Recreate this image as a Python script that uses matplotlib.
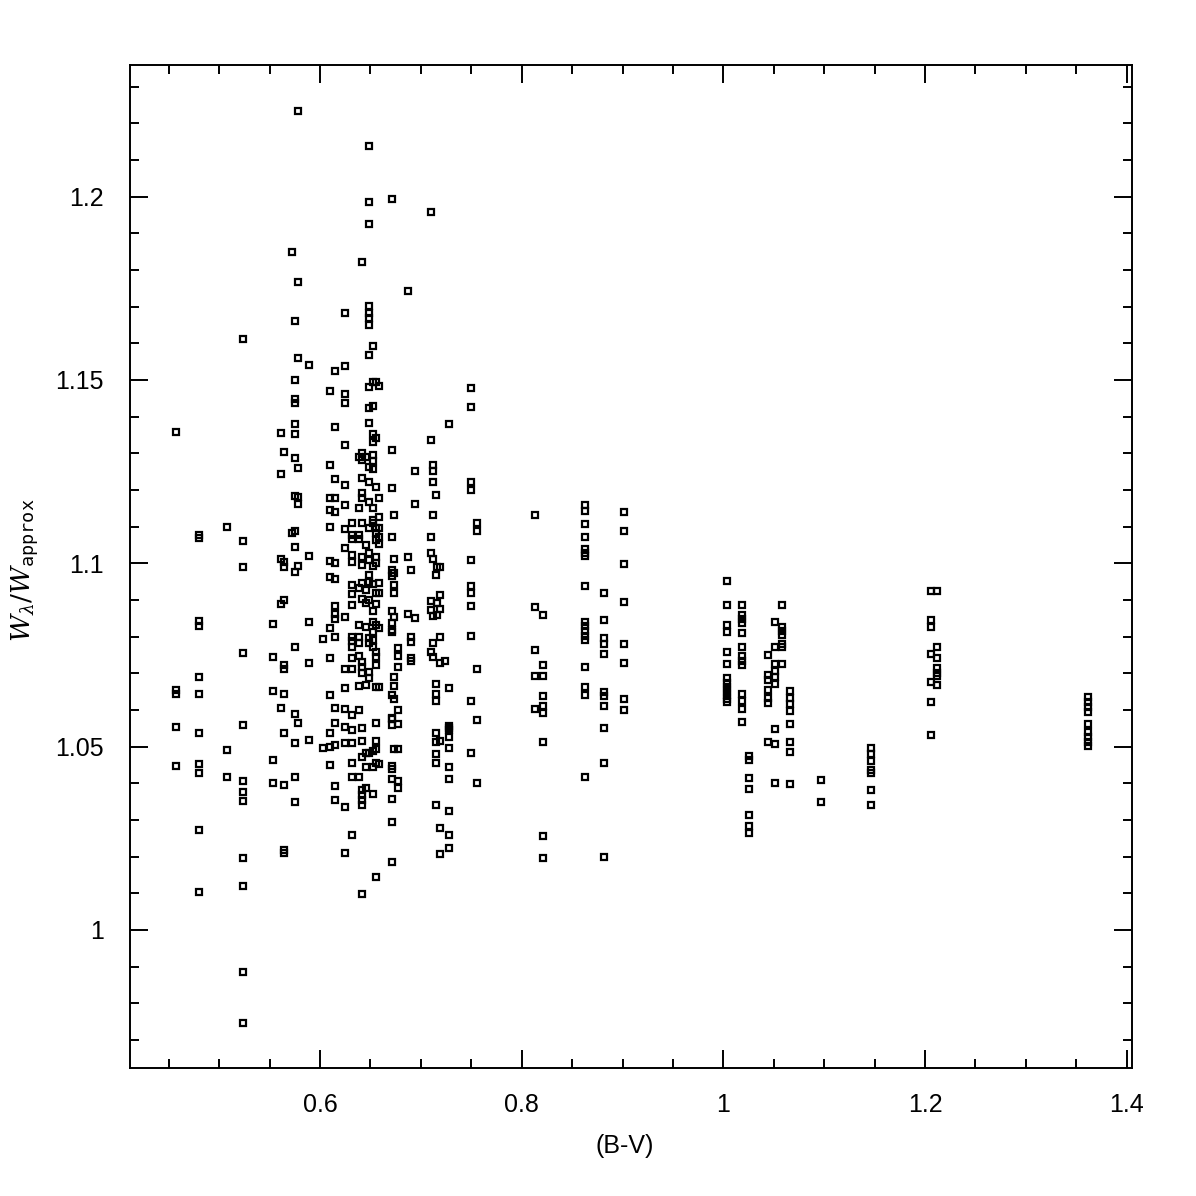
import numpy as np
import matplotlib
matplotlib.use("Agg")
import matplotlib.pyplot as plt
from matplotlib.ticker import MultipleLocator, FuncFormatter

col_bv = [0.457, 0.4804, 0.5074, 0.524, 0.553, 0.5613, 0.564, 0.5719,
          0.5752, 0.5779, 0.589, 0.6027, 0.6104, 0.6145, 0.6246, 0.632,
          0.6385, 0.6419, 0.6452, 0.6487, 0.6528, 0.6556, 0.6589, 0.6712,
          0.6735, 0.6772, 0.6871, 0.6904, 0.6943, 0.7099, 0.7122, 0.7146,
          0.7152, 0.7158, 0.7188, 0.7241, 0.7275, 0.7496, 0.7556, 0.8128,
          0.8211, 0.8632, 0.8817, 0.9012, 1.0039, 1.0188, 1.0257, 1.0444,
          1.0509, 1.0578, 1.0657, 1.0965, 1.1462, 1.2054, 1.2122, 1.3613]

col_ratio = [
    [1.1357, 1.0654, 1.0644, 1.0554, 1.0448],
    [1.1077, 1.1068, 1.0843, 1.0829, 1.0691, 1.0644, 1.0538, 1.0453, 1.0429, 1.0273, 1.0104],
    [1.1099, 1.0491, 1.0418],
    [1.1613, 1.1062, 1.0989, 1.0755, 1.056, 1.0407, 1.0376, 1.0352, 1.0195, 1.0121, 0.9885, 0.9747],
    [1.0834, 1.0745, 1.0652, 1.0464, 1.0402],
    [1.1356, 1.1244, 1.1012, 1.0889, 1.0606],
    [1.1304, 1.1004, 1.0991, 1.09, 1.0723, 1.0711, 1.0643, 1.0538, 1.0395, 1.0218, 1.0209],
    [1.185, 1.1083],
    [1.1661, 1.15, 1.1447, 1.1437, 1.1381, 1.1354, 1.1287, 1.1184, 1.1089, 1.1045, 1.0977,
     1.0772, 1.0589, 1.0511, 1.0418, 1.035],
    [1.2233, 1.1768, 1.156, 1.1261, 1.118, 1.1162, 1.0994, 1.0564],
    [1.154, 1.1021, 1.0841, 1.0729, 1.0518],
    [1.0794, 1.0495],
    [1.1471, 1.1268, 1.1177, 1.1145, 1.1099, 1.1006, 1.0963, 1.0824, 1.0743, 1.0641, 1.0537,
     1.05, 1.045],
    [1.1524, 1.1372, 1.123, 1.1177, 1.1141, 1.1, 1.0956, 1.0884, 1.0863, 1.0847, 1.0798,
     1.0606, 1.0564, 1.0504, 1.0393, 1.0355],
    [1.1683, 1.1537, 1.1462, 1.1437, 1.1323, 1.1214, 1.1159, 1.1094, 1.1043, 1.0854, 1.0712,
     1.0661, 1.0604, 1.0553, 1.0509, 1.0336, 1.0209],
    [1.1109, 1.1077, 1.1065, 1.1023, 1.1004, 1.0941, 1.0916, 1.0886, 1.08, 1.0788, 1.0773,
     1.0743, 1.0712, 1.0586, 1.0545, 1.0511, 1.0456, 1.0416, 1.0259],
    [1.1291, 1.115, 1.1077, 1.1065, 1.0932, 1.0832, 1.08, 1.0782, 1.0747, 1.0665, 1.06, 1.0416],
    [1.1821, 1.1302, 1.1282, 1.1233, 1.1191, 1.1177, 1.1109, 1.1018, 1.0995, 1.0945, 1.0904,
     1.0732, 1.0718, 1.07, 1.0552, 1.0515, 1.0471, 1.0383, 1.0368, 1.0355, 1.0341, 1.0098],
    [1.1289, 1.1051, 1.0927, 1.0891, 1.0827, 1.0668, 1.0482, 1.0445, 1.0388],
    [1.2138, 1.1986, 1.1925, 1.1703, 1.1684, 1.1668, 1.1649, 1.1569, 1.1482, 1.1424, 1.1383,
     1.1262, 1.1223, 1.1168, 1.1097, 1.1029, 1.1009, 1.0968, 1.095, 1.09, 1.0795, 1.0782,
     1.0704, 1.0686, 1.0484],
    [1.1594, 1.1494, 1.1429, 1.1353, 1.1332, 1.1295, 1.128, 1.1256, 1.1118, 1.115, 1.1109,
     1.0993, 1.0944, 1.087, 1.0841, 1.0814, 1.0791, 1.0772, 1.0489, 1.0445, 1.0371],
    [1.1494, 1.1343, 1.1209, 1.1097, 1.1082, 1.1064, 1.1016, 1.1, 1.0918, 1.0888, 1.0832,
     1.0759, 1.0745, 1.0723, 1.0662, 1.0564, 1.0516, 1.0493, 1.0456, 1.0145],
    [1.1483, 1.1179, 1.1127, 1.1097, 1.1073, 1.1054, 1.0947, 1.0919, 1.0823, 1.0663, 1.0452],
    [1.1994, 1.131, 1.1205, 1.1073, 1.0982, 1.0965, 1.087, 1.0838, 1.0818, 1.0812, 1.0641,
     1.0577, 1.0575, 1.056, 1.0448, 1.0438, 1.0411, 1.0357, 1.0295, 1.0185],
    [1.1132, 1.1013, 1.0974, 1.0941, 1.092, 1.0853, 1.0691, 1.0665, 1.0629, 1.0493],
    [1.0768, 1.0747, 1.0716, 1.06, 1.0562, 1.0493, 1.0405, 1.0387],
    [1.1743, 1.1016, 1.0863],
    [1.0982, 1.08, 1.0786, 1.0741, 1.0734],
    [1.1252, 1.1162, 1.0852],
    [1.1959, 1.1337, 1.1073, 1.1029, 1.0896, 1.0873, 1.0759],
    [1.1267, 1.1252, 1.1223, 1.1132, 1.1012, 1.0856, 1.0782, 1.0745],
    [1.1187, 1.0967, 1.0672],
    [1.0643, 1.0625, 1.0536, 1.0513, 1.048, 1.0456, 1.0342],
    [1.0991, 1.0891, 1.0859],
    [1.0991, 1.0914, 1.0875, 1.08, 1.0729, 1.0516, 1.0279, 1.0207],
    [1.0733],
    [1.1381, 1.0661, 1.0557, 1.0551, 1.0545, 1.0525, 1.0495, 1.0445, 1.0413, 1.0325, 1.0259, 1.0224],
    [1.1479, 1.1426, 1.1223, 1.12, 1.1009, 1.0938, 1.092, 1.0884, 1.0802, 1.0624, 1.0483],
    [1.1111, 1.1089, 1.0713, 1.0574, 1.04],
    [1.1131, 1.0882, 1.0763, 1.0693, 1.0603],
    [1.0858, 1.0723, 1.0692, 1.0638, 1.061, 1.0593, 1.0513, 1.0255, 1.0197],
    [1.1159, 1.1142, 1.1106, 1.1071, 1.1039, 1.1029, 1.1019, 1.0937, 1.0841, 1.0829, 1.0816,
     1.0802, 1.0792, 1.0718, 1.0662, 1.0641, 1.0417],
    [1.092, 1.0845, 1.0797, 1.078, 1.0754, 1.0649, 1.0638, 1.0612, 1.0552, 1.0456, 1.02],
    [1.114, 1.1088, 1.0998, 1.0894, 1.0779, 1.0728, 1.0631, 1.06],
    [1.0953, 1.0886, 1.0832, 1.0812, 1.0759, 1.0725, 1.0686, 1.0674, 1.0663, 1.0652, 1.0641,
     1.0631, 1.0622],
    [1.0885, 1.0859, 1.0847, 1.0836, 1.0809, 1.0773, 1.0748, 1.0734, 1.0722, 1.0643, 1.0625,
     1.0602, 1.0567],
    [1.0475, 1.0464, 1.0415, 1.0384, 1.0314, 1.0284, 1.0264],
    [1.075, 1.0695, 1.0683, 1.0654, 1.0632, 1.062, 1.0513],
    [1.084, 1.0773, 1.0725, 1.0707, 1.0689, 1.0671, 1.0547, 1.0506, 1.0401],
    [1.0886, 1.0825, 1.0816, 1.0804, 1.078, 1.0771, 1.0725],
    [1.0651, 1.0634, 1.0615, 1.0597, 1.0562, 1.0513, 1.0486, 1.0398],
    [1.0409, 1.0349],
    [1.0497, 1.0479, 1.0461, 1.0436, 1.0427, 1.0383, 1.0341],
    [1.0925, 1.0845, 1.0825, 1.0753, 1.0677, 1.0622, 1.0533],
    [1.0925, 1.0773, 1.0741, 1.0714, 1.0702, 1.0693, 1.0668],
    [1.0636, 1.0623, 1.0609, 1.0595, 1.0562, 1.0541, 1.0527, 1.0514, 1.0503],
]

x_ticks = [0.6, 0.8, 1.0, 1.2, 1.4]
y_ticks = [1.0, 1.05, 1.1, 1.15, 1.2]

bv = np.concatenate([[b] * len(r) for b, r in zip(col_bv, col_ratio)])
ratio = np.concatenate(col_ratio)

plt.rcParams['font.family'] = ['Liberation Sans', 'DejaVu Sans']
plt.rcParams['mathtext.fontset'] = 'dejavuserif'

fig = plt.figure(figsize=(11.96, 11.96), dpi=100)
ax = fig.add_axes([130 / 1196, 128 / 1196, 1002 / 1196, 1003 / 1196])

ax.plot(bv, ratio, linestyle='none', marker='s', markersize=4.8,
        markerfacecolor='none', markeredgecolor='black', markeredgewidth=1.6)

ax.set_xlim(0.4116, 1.4052)
ax.set_ylim(0.96236, 1.2359)

ax.set_xticks(x_ticks)
ax.set_yticks(y_ticks)
ax.xaxis.set_minor_locator(MultipleLocator(0.05))
ax.yaxis.set_minor_locator(MultipleLocator(0.01))
fmt = FuncFormatter(lambda v, p: ('%.2f' % v).rstrip('0').rstrip('.'))
ax.xaxis.set_major_formatter(fmt)
ax.yaxis.set_major_formatter(fmt)

ax.tick_params(which='both', direction='in', top=True, right=True, width=1.4, color='black')
ax.tick_params(which='major', length=13, labelsize=18)
ax.tick_params(which='minor', length=6.5)
ax.tick_params(axis='x', which='major', pad=18)
ax.tick_params(axis='y', which='major', pad=19)
for s in ax.spines.values():
    s.set_linewidth(1.4)

fig.text(625 / 1196, 1 - 1146 / 1196, '(B-V)', fontsize=18, ha='center', va='center')
fig.text(24 / 1196, 1 - 570 / 1196, r'$W_{\lambda}/W_{\mathtt{approx}}$', fontsize=19,
         rotation=90, ha='center', va='center')

fig.savefig('out.png', dpi=100, facecolor='white')
